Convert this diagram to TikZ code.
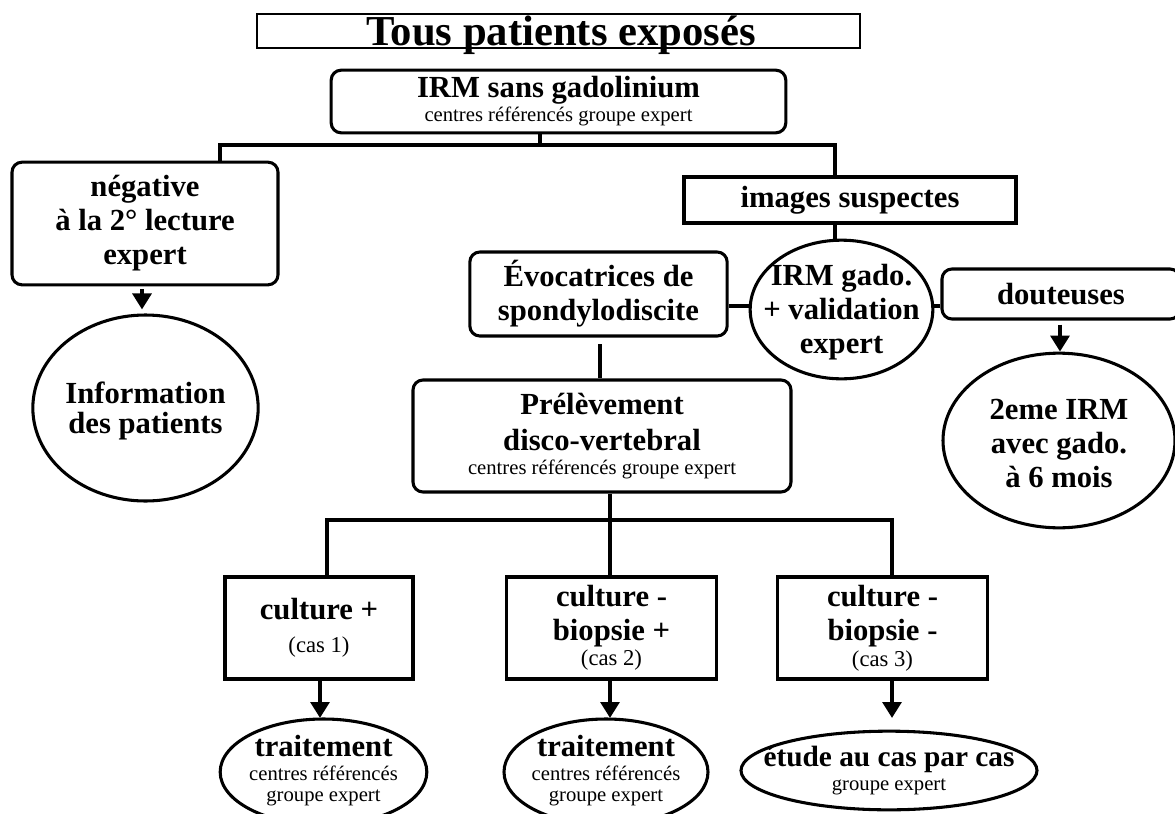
\documentclass[tikz,border=0pt]{standalone}
\usepackage{fontspec}
\setmainfont{Liberation Serif}
\usetikzlibrary{shapes.geometric,arrows.meta}
\newcommand\smt{\fontsize{15.5}{17}\selectfont\mdseries}
\newcommand\cast{\fontsize{17}{20}\selectfont\mdseries}
\begin{document}
\begin{tikzpicture}[x=0.75pt,y=-0.75pt,line width=2.3pt,
  every node/.style={align=center, inner sep=0pt, line width=2.3pt},
  rbox/.style={draw, rounded corners=7.5pt},
  sbox/.style={draw},
  ell/.style={draw, ellipse},
  bt/.style={font=\fontsize{23}{25.5}\selectfont\bfseries},
  conn/.style={line width=3pt},
  arr/.style={line width=3pt, -{Triangle[width=14pt,length=12pt]}},
]
\useasboundingbox (0,0) rectangle (1175,814);

% title
\node[sbox, line width=1.6pt, minimum width=452pt, minimum height=25.5pt] (title) at (558.5,31) {};
\node[anchor=base, font=\fontsize{32}{36}\selectfont\bfseries] (titletxt) at (561,45) {Tous patients exposés};

% nodes
\node[rbox, bt, minimum width=341pt, minimum height=47pt] (irm) at (558.5,101.5)
  {IRM sans gadolinium\\[-7.5pt]{\smt centres référencés groupe expert}};
\node[rbox, bt, minimum width=199.5pt, minimum height=92pt] (neg) at (145,223.5)
  {négative\\à la 2° lecture\\expert};
\node[ell, minimum width=169pt, minimum height=139.5pt,
  label={[bt,yshift=-2pt]center:Information\\[-3pt]des patients}] (info) at (145.5,408) {};
\node[sbox, bt, minimum width=249pt, minimum height=34.5pt] (susp) at (850,200) {images suspectes};
\node[ell, minimum width=137pt, minimum height=104pt,
  label={[bt,yshift=-2pt]center:IRM gado.\\+ validation\\expert}] (gado) at (841.5,309.5) {};
\node[rbox, bt, minimum width=193pt, minimum height=63pt] (evoc) at (598.5,294)
  {Évocatrices de\\spondylodiscite};
\node[rbox, bt, minimum width=178.5pt, minimum height=37.5pt] (dout) at (1061,294) {douteuses};
\node[ell, minimum width=174pt, minimum height=131pt,
  label={[bt,yshift=-2pt]center:2eme IRM\\avec gado.\\à 6 mois}] (irm2) at (1059,440.5) {};
\node[rbox, bt, minimum width=283.5pt, minimum height=84pt] (prel) at (602,436)
  {Prélèvement\\[1pt]disco-vertebral\\[-7.5pt]{\smt centres référencés groupe expert}};
\node[sbox, bt, minimum width=141pt, minimum height=76.5pt] (c1) at (319,628)
  {culture +\\[-1pt]{\cast (cas 1)}};
\node[sbox, bt, minimum width=158pt, minimum height=76.5pt] (c2) at (611.5,628)
  {culture -\\biopsie +\\[-6.5pt]{\cast (cas 2)}};
\node[sbox, bt, minimum width=158pt, minimum height=76.5pt] (c3) at (882.5,628)
  {culture -\\biopsie -\\[-6pt]{\cast (cas 3)}};
\node[ell, minimum width=155pt, minimum height=79.5pt,
  label={[bt,yshift=1pt]center:traitement\\[-7.5pt]{\smt centres référencés}\\[-9.5pt]{\smt groupe expert}}] (t1) at (323.5,772) {};
\node[ell, minimum width=153pt, minimum height=79.5pt,
  label={[bt,yshift=1pt]center:traitement\\[-7.5pt]{\smt centres référencés}\\[-9.5pt]{\smt groupe expert}}] (t2) at (606,772) {};
\node[ell, minimum width=222pt, minimum height=59pt,
  label={[font=\fontsize{22}{25}\selectfont\bfseries]center:étude au cas par cas\\[-6.5pt]{\smt groupe expert}}] (etude) at (889,770.5) {};

% helper coordinates
\coordinate (jA) at (540,145);
\coordinate (xL) at (220,0);
\coordinate (xR) at (835,0);
\coordinate (yE) at (0,306);
\coordinate (xD) at (1060,0);
\coordinate (xN) at (142,0);
\coordinate (xP) at (600,0);
\coordinate (jB) at (610,520);
\coordinate (x1) at (327,0);
\coordinate (x3) at (892,0);
\coordinate (a1) at (320,0);
\coordinate (a2) at (610,0);
\coordinate (a3) at (892,0);
\coordinate (yT) at (0,718);

% connectors
\draw[conn] (irm.south -| jA) -- (jA);
\draw[conn] (neg.north -| xL) |- (jA) -| (susp.north -| xR);
\draw[conn] (susp.south -| xR) -- (gado.north -| xR);
\draw[conn] (evoc.east |- yE) -- (gado.west |- yE);
\draw[conn] (gado.east |- yE) -- (dout.west |- yE);
\draw[arr, shorten <=3pt] (dout.south -| xD) -- (irm2.north -| xD);
\draw[arr, shorten <=2pt, shorten >=3pt] (neg.south -| xN) -- (info.north -| xN);
\draw[conn, shorten <=5pt] (evoc.south -| xP) -- (prel.north -| xP);
\draw[conn] (prel.south -| jB) -- (jB);
\draw[conn] (c1.north -| x1) |- (jB) -| (c3.north -| x3);
\draw[conn] (jB) -- (c2.north -| jB);
\draw[arr] (c1.south -| a1) -- (yT -| a1);
\draw[arr] (c2.south -| a2) -- (yT -| a2);
\draw[arr] (c3.south -| a3) -- (yT -| a3);
\end{tikzpicture}
\end{document}
